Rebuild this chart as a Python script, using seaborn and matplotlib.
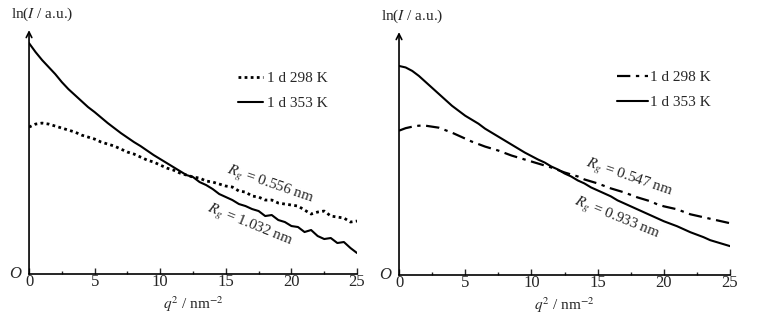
import numpy as np
import pandas as pd
import seaborn as sns
import matplotlib.pyplot as plt
from matplotlib.ticker import MultipleLocator

sns.set_style("white")
plt.rcParams['font.family'] = ['Liberation Serif', 'DejaVu Serif']
plt.rcParams['mathtext.fontset'] = 'stix'

# q^2 in steps of 0.5 nm^-2, heights in arbitrary ln(I) units
q2 = [i * 0.5 for i in range(51)]

left_298 = [147, 150, 151, 150, 148, 146, 144, 142, 139, 137,
            135, 132, 130, 128, 125, 122, 120, 117, 114, 112,
            109, 106, 104, 101, 99, 97, 96, 93, 92, 90,
            88, 87, 83, 82, 78, 77, 74, 74, 71, 70,
            69, 68, 64, 60, 62, 63, 58, 57, 56, 52, 53]
left_353 = [231, 222, 214, 207, 200, 192, 185, 179, 173, 167,
            162, 156.5, 151, 146, 141, 136.5, 132, 128, 123.5, 119,
            115, 111, 107, 103, 99, 97, 92, 89, 85, 80,
            77, 74, 70, 68, 65, 63, 58, 59, 54, 52,
            48, 47, 42, 44, 38, 35, 36, 31, 32, 26, 21]

right_298 = [145, 147.5, 149, 150, 150, 149, 148, 145.5, 143, 140,
             137, 134, 131.5, 129, 127, 125, 122.5, 120, 118, 116,
             114, 112, 110, 108, 105.5, 103, 101, 99, 96, 94,
             92, 89.5, 87, 85, 83, 80.5, 78, 76, 74, 71,
             69, 67.5, 66, 63.5, 61, 59.5, 58, 56.5, 55, 53.5, 52]
right_353 = [210, 208.5, 205, 200, 194, 188, 182, 176, 170, 165,
             160, 156, 152, 147, 143, 139, 135, 131, 127, 123,
             119.5, 116, 113, 109, 106, 102, 99, 95, 92, 88,
             85, 82, 79, 75, 72, 69, 66, 63, 60, 57,
             54, 51.5, 49, 46, 43, 40.5, 38, 35, 33, 31, 29]

series_labels = ['1 d 298 K', '1 d 353 K']
rg_left = [r'$R_g$ = 0.556 nm', r'$R_g$ = 1.032 nm']
rg_right = [r'$R_g$ = 0.547 nm', r'$R_g$ = 0.933 nm']

fig = plt.figure(figsize=(7.58, 3.23), dpi=100)
ax1 = fig.add_axes([0.0383, 0.1517, 0.4327, 0.755])
ax2 = fig.add_axes([0.5264, 0.1486, 0.4367, 0.752])


def style_axis(ax):
    ax.set_xlim(0, 25)
    ax.set_ylim(0, 244)
    for s in ['top', 'right', 'left']:
        ax.spines[s].set_visible(False)
    ax.spines['bottom'].set_color('k')
    ax.spines['bottom'].set_linewidth(1.2)
    ax.annotate('', xy=(0, 1.0), xytext=(0, 0), xycoords='axes fraction',
                arrowprops=dict(arrowstyle='->', color='k', lw=1.2,
                                shrinkA=0, shrinkB=0))
    ax.xaxis.set_major_locator(MultipleLocator(5))
    ax.xaxis.set_minor_locator(MultipleLocator(2.5))
    ax.tick_params(axis='x', which='major', direction='in', length=4, width=1,
                   labelsize=12, pad=0, bottom=True)
    ax.tick_params(axis='x', which='minor', direction='in', length=2.5, width=1,
                   bottom=True)
    ax.set_yticks([])
    ax.set_xlabel(r'$q^2$ / nm$^{-2}$', fontsize=11, labelpad=3)
    ax.set_ylabel('')
    ax.text(-0.025, 0.0, 'O', transform=ax.transAxes, fontsize=12,
            style='italic', ha='right', va='center')
    ax.text(0.04, 1.03, r'ln($I$ / a.u.)', transform=ax.transAxes,
            fontsize=11, ha='center', va='bottom')


sns.lineplot(x=q2, y=left_298, ax=ax1, color='k', lw=2.0,
             linestyle=(0, (1, 1.2)), label=series_labels[0])
sns.lineplot(x=q2, y=left_353, ax=ax1, color='k', lw=1.5,
             label=series_labels[1])
sns.lineplot(x=q2, y=right_298, ax=ax2, color='k', lw=1.6,
             linestyle=(0, (6, 2.5, 1.5, 2.5)), label=series_labels[0])
sns.lineplot(x=q2, y=right_353, ax=ax2, color='k', lw=1.5,
             label=series_labels[1])

for ax in (ax1, ax2):
    style_axis(ax)

ax1.legend(loc='upper left', bbox_to_anchor=(0.619, 0.855), frameon=False,
           fontsize=11, handlelength=1.6, handletextpad=0.3,
           labelspacing=0.75, borderaxespad=0)
ax2.legend(loc='upper left', bbox_to_anchor=(0.641, 0.866), frameon=False,
           fontsize=11, handlelength=2.0, handletextpad=0.15,
           labelspacing=0.72, borderaxespad=0)

ax1.text(18.4, 89, rg_left[0], rotation=-19, fontsize=11,
         ha='center', va='center', rotation_mode='anchor')
ax1.text(16.8, 48, rg_left[1], rotation=-22, fontsize=11,
         ha='center', va='center', rotation_mode='anchor')
ax2.text(17.4, 97, rg_right[0], rotation=-19, fontsize=11,
         ha='center', va='center', rotation_mode='anchor')
ax2.text(16.4, 57, rg_right[1], rotation=-22, fontsize=11,
         ha='center', va='center', rotation_mode='anchor')

fig.savefig('out.png', dpi=100)
